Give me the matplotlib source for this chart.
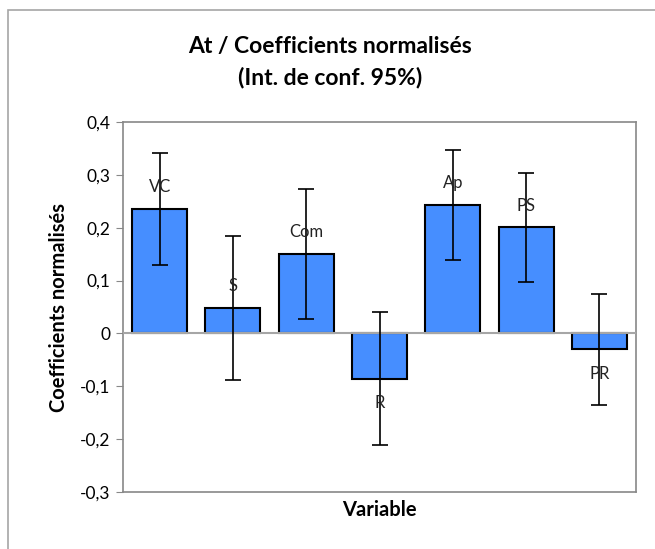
import matplotlib.pyplot as plt
from matplotlib.patches import Rectangle

# values
variables = ['VC', 'S', 'Com', 'R', 'Ap', 'PS', 'PR']
coefs = [0.236, 0.048, 0.150, -0.086, 0.243, 0.201, -0.030]
ci_half = [0.106, 0.137, 0.123, 0.126, 0.104, 0.103, 0.105]
yticks = [-0.3, -0.2, -0.1, 0, 0.1, 0.2, 0.3, 0.4]
ytick_labels = ['-0,3', '-0,2', '-0,1', '0', '0,1', '0,2', '0,3', '0,4']

plt.rcParams['font.family'] = ['Lato', 'DejaVu Sans']

W, H = 655, 549
fig = plt.figure(figsize=(W / 100, H / 100), dpi=100)

# outer chart frame (runs off the right / bottom edge)
fig.patches.append(Rectangle((8 / W, -0.1), 2, 1 - 10 / H + 0.1, transform=fig.transFigure,
                             fill=False, edgecolor='#a6a6a6', linewidth=1.2))

left, right, top, bottom = 123, 636, 122, 492
ax = fig.add_axes([left / W, 1 - bottom / H, (right - left) / W, (bottom - top) / H])

x = range(len(variables))
ax.bar(x, coefs, width=0.75, color='#468eff', edgecolor='black', linewidth=1.5, zorder=2)
ax.errorbar(x, coefs, yerr=ci_half, fmt='none', ecolor='black', elinewidth=1.2,
            capsize=6, capthick=1.2, zorder=4)
ax.axhline(0, color='#a6a6a6', linewidth=1.5, zorder=3)

for i, (name, v) in enumerate(zip(variables, coefs)):
    off = 0.041 if v >= 0 else -0.046
    ax.text(i, v + off, name, ha='center', va='center', fontsize=12, color='#222222', zorder=5)

ax.set_xlim(-0.5, len(variables) - 0.5)
ax.set_ylim(-0.3, 0.4)
ax.set_xticks([])
ax.set_yticks(yticks)
ax.set_yticklabels(ytick_labels, fontsize=12.5)
ax.tick_params(axis='y', direction='out', length=5, color='#888888', pad=4)
for s in ax.spines.values():
    s.set_color('#888888')
    s.set_linewidth(1.2)

ax.set_ylabel('Coefficients normalisés', fontsize=14.5, fontweight='bold', labelpad=8)
ax.set_xlabel('Variable', fontsize=14.5, fontweight='bold', labelpad=6)

fig.text(330 / W, 1 - 47 / H, 'At / Coefficients normalisés',
         ha='center', va='center', fontsize=16.5, fontweight='bold')
fig.text(330 / W, 1 - 77 / H, '(Int. de conf. 95%)',
         ha='center', va='center', fontsize=16.5, fontweight='bold')

fig.savefig('out.png', dpi=100)
